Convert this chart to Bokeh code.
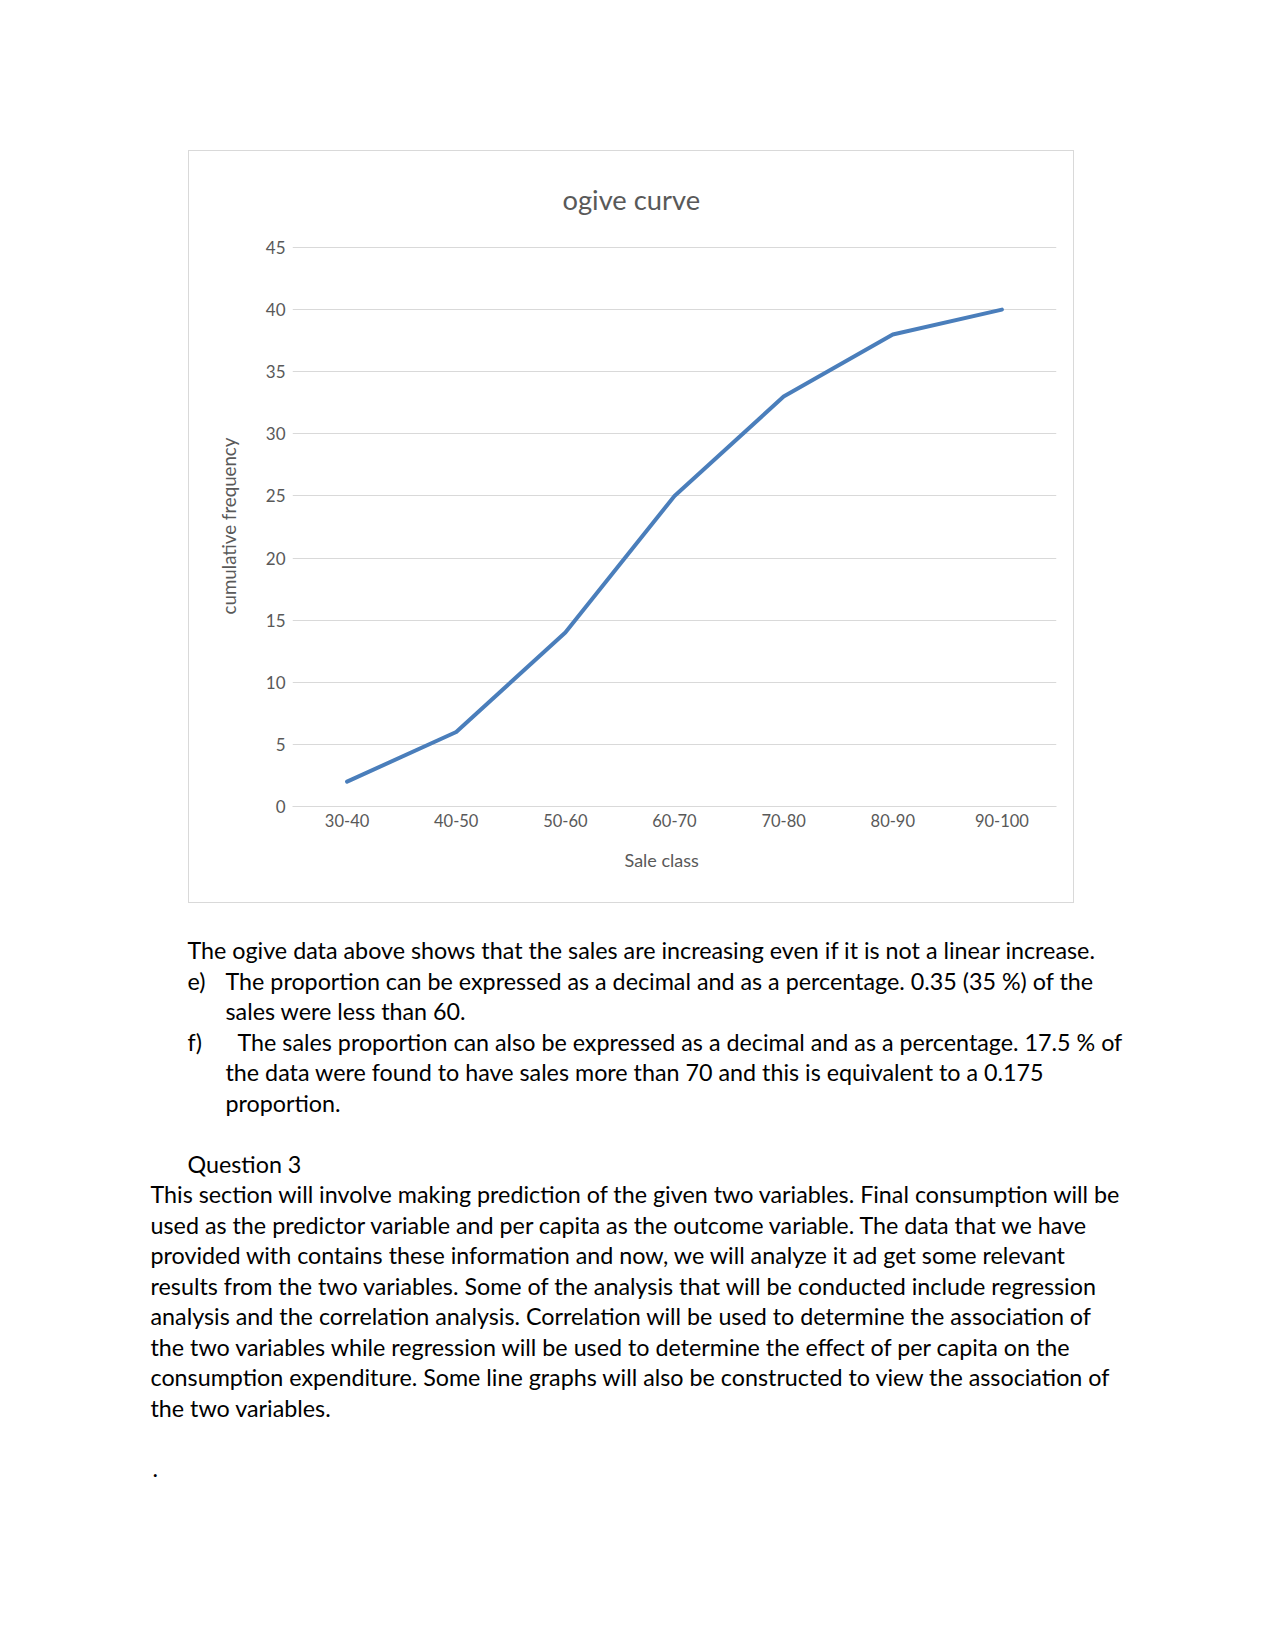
from bokeh.plotting import figure
from bokeh.models import Range1d, FixedTicker, Label, Spacer, Title
from bokeh.layouts import column, row
from bokeh.embed import file_html
from bokeh.resources import INLINE

# ---------------- data ----------------
categories = ["30-40", "40-50", "50-60", "60-70", "70-80", "80-90", "90-100"]
cum_freq = [2, 6, 14, 25, 33, 38, 40]
y_ticks = [0, 5, 10, 15, 20, 25, 30, 35, 40, 45]

chart_title = "ogive curve"
x_title = "Sale class"
y_title = "cumulative frequency"

body_lines = [
    "The ogive data above shows that the sales are increasing even if it is not a linear increase.",
    "e)",
    "The proportion can be expressed as a decimal and as a percentage. 0.35 (35 %) of the",
    "sales were less than 60.",
    "f)",
    "The sales proportion can also be expressed as a decimal and as a percentage. 17.5 % of",
    "the data were found to have sales more than 70 and this is equivalent to a 0.175",
    "proportion.",
    "Question 3",
    "This section will involve making prediction of the given two variables. Final consumption will be",
    "used as the predictor variable and per capita as the outcome variable. The data that we have",
    "provided with contains these information and now, we will analyze it ad get some relevant",
    "results from the two variables. Some of the analysis that will be conducted include regression",
    "analysis and the correlation analysis. Correlation will be used to determine the association of",
    "the two variables while regression will be used to determine the effect of per capita on the",
    "consumption expenditure. Some line graphs will also be constructed to view the association of",
    "the two variables.",
    ".",
]

# ---------------- layout (page pixels) ----------------
W, H = 1275, 1651
BOX_L, BOX_T, BOX_R, BOX_B = 188, 150, 1074, 903          # chart box on page
F_LEFT, F_RIGHT, F_TOP, F_BOTTOM = 291, 1055, 243, 805    # plot frame on page
Y_MAX = 45.16                                             # keeps 45 grid line visible

X_MAIN, X_HANG, X_F, X_PARA = 187, 225, 237, 150
LINE0, LSTEP = 949.5, 30.5
placement = [
    (X_MAIN, 0), (X_MAIN, 1), (X_HANG, 1), (X_HANG, 2), (X_MAIN, 3), (X_F, 3),
    (X_HANG, 4), (X_HANG, 5), (X_MAIN, 7),
    (X_PARA, 8), (X_PARA, 9), (X_PARA, 10), (X_PARA, 11), (X_PARA, 12),
    (X_PARA, 13), (X_PARA, 14), (X_PARA, 15), (X_PARA + 2, 17),
]

GRAY = "#595959"
GRID = "#d9d9d9"
BLUE = "#4a7ebb"
FONT = "Lato"

# category slots: each class sits at the centre of its slot
x_pos = [i + 0.5 for i in range(len(categories))]

# ---------------- chart ----------------
cw, ch = BOX_R - BOX_L, BOX_B - BOX_T
p = figure(
    width=cw, height=ch,
    x_range=Range1d(0, len(categories)),
    y_range=Range1d(0, Y_MAX),
    output_backend="svg", toolbar_location=None,
    min_border_left=F_LEFT - BOX_L, min_border_right=BOX_R - F_RIGHT,
    min_border_top=F_TOP - BOX_T, min_border_bottom=BOX_B - F_BOTTOM,
    styles={"border": "1.5px solid #d9d9d9", "box-sizing": "border-box"},
)
p.background_fill_color = "white"
p.border_fill_color = "white"
p.outline_line_color = None

p.title.text = chart_title
p.title.text_font = FONT
p.title.text_font_size = "27.3px"
p.title.text_font_style = "normal"
p.title.text_color = GRAY
p.title.align = "left"
p.title.offset = 270
p.title.standoff = 59

p.xgrid.visible = False
p.ygrid.grid_line_color = GRID
p.ygrid.grid_line_width = 1

p.yaxis.ticker = FixedTicker(ticks=y_ticks, minor_ticks=[])
p.yaxis.axis_line_color = None
p.yaxis.major_tick_line_color = None
p.yaxis.minor_tick_line_color = None
p.yaxis.major_label_text_font = FONT
p.yaxis.major_label_text_font_size = "17px"
p.yaxis.major_label_text_color = GRAY
p.yaxis.major_label_standoff = 1
p.yaxis.axis_label = y_title
p.yaxis.axis_label_text_font = FONT
p.yaxis.axis_label_text_font_size = "18.7px"
p.yaxis.axis_label_text_font_style = "normal"
p.yaxis.axis_label_text_color = GRAY
p.yaxis.axis_label_standoff = 23

p.xaxis.ticker = FixedTicker(ticks=x_pos, minor_ticks=[])
p.xaxis.major_label_overrides = {xp: c for xp, c in zip(x_pos, categories)}
p.xaxis.axis_line_color = GRID
p.xaxis.major_tick_line_color = None
p.xaxis.minor_tick_line_color = None
p.xaxis.major_label_text_font = FONT
p.xaxis.major_label_text_font_size = "16.5px"
p.xaxis.major_label_text_color = GRAY
p.xaxis.major_label_standoff = 1

# x-axis title, placed like the original (left of the frame centre)
p.add_layout(Title(text=x_title, text_font=FONT, text_font_size="18px",
                   text_font_style="normal", text_color=GRAY,
                   align="left", offset=332, standoff=34), "below")

p.line(x=x_pos, y=cum_freq, line_color=BLUE, line_width=4, line_cap="round", line_join="round")

# ---------------- body text (page coordinates) ----------------
th = H - BOX_B
t = figure(
    width=W, height=th,
    x_range=Range1d(0, W), y_range=Range1d(H, BOX_B),
    output_backend="svg", toolbar_location=None,
    min_border=0, min_border_left=0, min_border_right=0, min_border_top=0, min_border_bottom=0,
)
t.axis.visible = False
t.grid.visible = False
t.outline_line_color = None
t.background_fill_color = "white"
t.border_fill_color = "white"

for txt, (bx, slot) in zip(body_lines, placement):
    t.add_layout(Label(x=bx, y=LINE0 + slot * LSTEP, text=txt,
                       text_font=FONT, text_font_size="23.3px", text_color="black",
                       text_align="left", text_baseline="alphabetic"))

page = column(
    Spacer(width=W, height=BOX_T),
    row(Spacer(width=BOX_L, height=ch), p),
    t,
    spacing=0,
)

open("out.html", "w").write(file_html(page, INLINE))
